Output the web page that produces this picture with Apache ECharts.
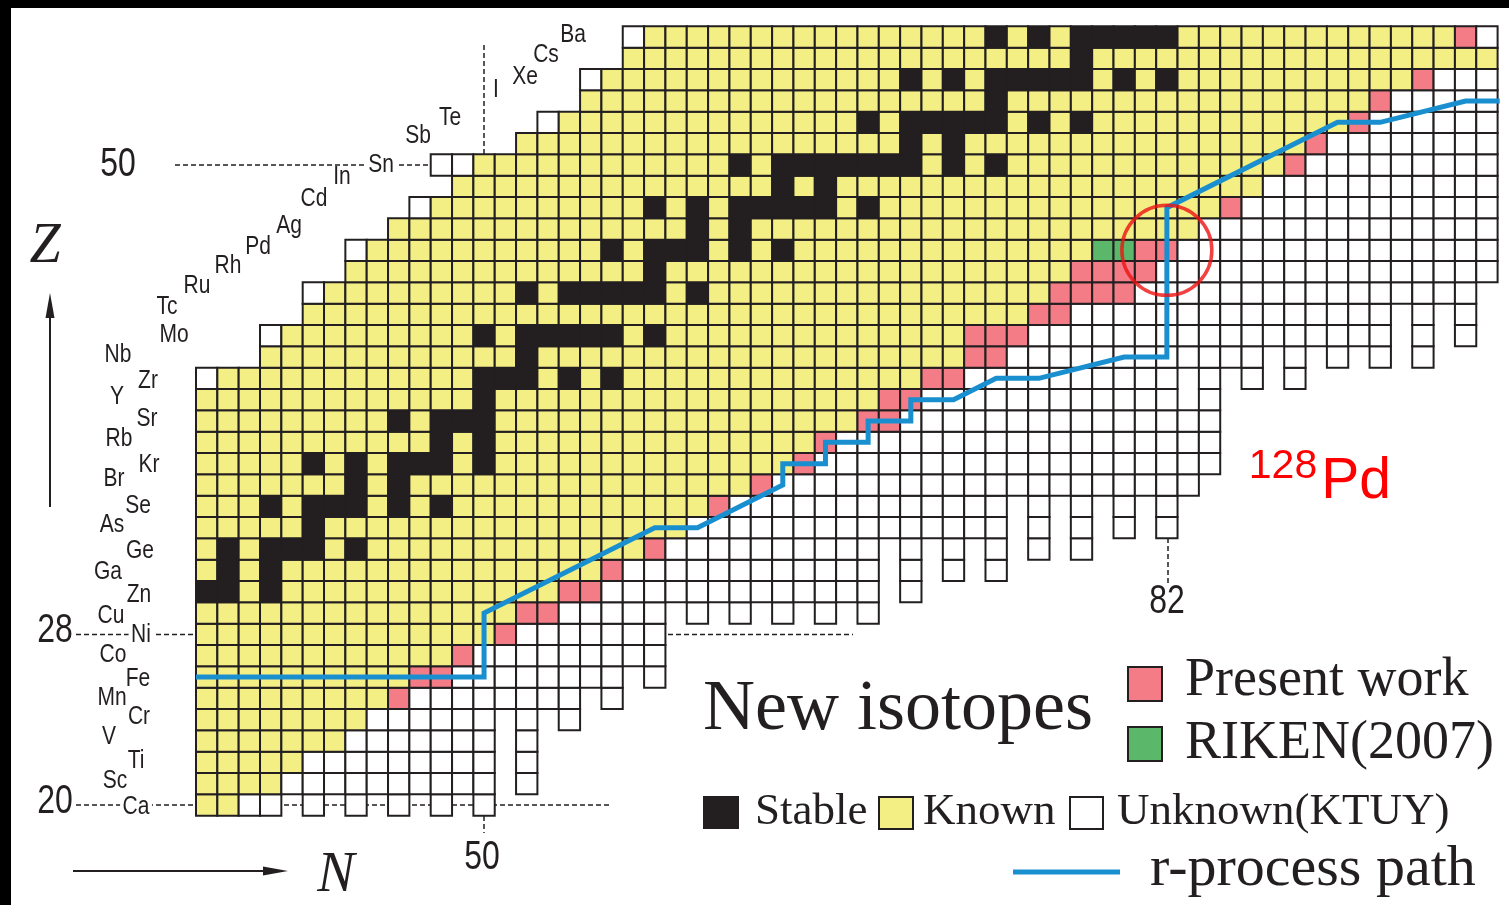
<!DOCTYPE html>
<html><head><meta charset="utf-8">
<script src="https://cdn.jsdelivr.net/npm/echarts@6/dist/echarts.min.js"></script>
<style>html,body{margin:0;padding:0;background:#fff;} #c{width:1509px;height:905px;}</style>
</head><body><div id="c"></div>
<script>
// ---------------- DATA ----------------
const Z_VALUES = [20,21,22,23,24,25,26,27,28,29,30,31,32,33,34,35,36,37,38,39,40,41,42,43,44,45,46,47,48,49,50,51,52,53,54,55,56];
const ELEMENTS = ['Ca','Sc','Ti','V','Cr','Mn','Fe','Co','Ni','Cu','Zn','Ga','Ge','As','Se','Br','Kr','Rb','Sr','Y','Zr','Nb','Mo','Tc','Ru','Rh','Pd','Ag','Cd','In','Sn','Sb','Te','I','Xe','Cs','Ba'];
// N ranges of all nuclides drawn in each row (Z = 20 ... 56)
const ROW_SEGMENTS = [
  [[37,40],[42,42],[44,44],[46,46],[48,48],[50,50]],
  [[37,50],[52,52]],
  [[37,50],[52,52]],
  [[37,50],[52,52]],
  [[37,50],[52,52],[54,54]],
  [[37,54],[56,56]],
  [[37,56],[58,58]],
  [[37,58]],
  [[37,58]],
  [[37,58],[60,60],[62,62],[64,64],[66,66],[68,68]],
  [[37,68],[70,70]],
  [[37,68],[70,70],[72,72],[74,74]],
  [[37,68],[70,70],[72,72],[74,74],[76,76],[78,78]],
  [[37,74],[76,76],[78,78],[80,80],[82,82]],
  [[37,74],[76,76],[78,78],[80,80],[82,82]],
  [[37,83]],
  [[37,84]],
  [[37,84]],
  [[37,84]],
  [[37,82],[84,84]],
  [[37,82],[84,84],[86,86],[88,88]],
  [[40,86],[88,88],[90,90],[92,92],[94,94]],
  [[40,92],[94,94],[96,96]],
  [[42,92],[94,94],[96,96]],
  [[42,96]],
  [[44,97]],
  [[44,97]],
  [[46,97]],
  [[47,97]],
  [[49,97]],
  [[48,97]],
  [[52,97]],
  [[53,97]],
  [[55,97]],
  [[55,97]],
  [[57,97]],
  [[57,97]]
];
// first / last known (previously identified) N in each row
const FIRST_KNOWN_N = [37,37,37,37,37,37,37,37,37,37,37,37,37,37,37,37,37,37,37,37,38,40,41,42,43,44,45,46,48,49,50,52,54,55,56,57,58];
const LAST_KNOWN_N  = [38,40,41,43,44,45,46,48,50,51,53,55,57,59,60,62,64,65,67,68,70,72,72,75,76,77,78,83,84,86,87,88,90,91,93,97,95];
// stable N for each row
const STABLE_N = [
  [],[],[],[],[],[],[],[],[],[],
  [37,38,40],[38,40],[38,40,41,42,44],[42],[40,42,43,44,46,48],[44,46],[42,44,46,47,48,50],[48,50],[46,48,49,50],[50],
  [50,51,52,54,56],[52],[50,52,53,54,55,56,58],[],[52,54,55,56,57,58,60],[58],[56,58,59,60,62,64],[60,62],
  [58,60,62,63,64,65,66,68],[64,66],[62,64,65,66,67,68,69,70,72,74],[70,72],[68,70,71,72,73,74,76,78],[74],
  [70,72,74,75,76,77,78,80,82],[78],[74,76,78,79,80,81,82]
];
// new isotopes [N, Z]
const PRESENT_WORK = [[46,25],[47,26],[48,26],[49,27],[51,28],[52,29],[53,29],[54,30],[55,30],[56,31],[58,32],
  [61,34],[63,35],[65,36],[66,37],[68,38],[69,38],[69,39],[70,39],[71,40],[72,40],[73,41],[74,41],[73,42],[74,42],[75,42],
  [76,43],[77,43],[77,44],[78,44],[79,44],[80,44],[78,45],[79,45],[80,45],[81,45],[81,46],[82,46],[85,48],[88,50],
  [89,51],[91,52],[92,53],[94,54],[96,56]];
const RIKEN_2007 = [[79,46],[80,46]];
// r-process path vertices
const RPATH_N = [36.5,50,50,58,60,64,64,66,66,68,68,70,70,72,74,76,80,82,82,90,92,96,97.6];
const RPATH_Z = [26,26,29,33,33,35,36,36,37,37,38,38,39,39,40,40,41,41,48,52,52,53,53];
const HIGHLIGHT = [82,46]; // 128Pd

// ---------------- BUILD ----------------
const COLORS = ['#ffffff','#f4ef84','#231f20','#f47c86','#5bb86b'];
const special = {};
STABLE_N.forEach((arr,i)=>arr.forEach(n=>special[n+','+Z_VALUES[i]]=2));
PRESENT_WORK.forEach(([n,z])=>special[n+','+z]=3);
RIKEN_2007.forEach(([n,z])=>special[n+','+z]=4);
const cells = [];
Z_VALUES.forEach((z,i)=>{
  ROW_SEGMENTS[i].forEach(([a,b])=>{
    for(let n=a;n<=b;n++){
      let s = (n>=FIRST_KNOWN_N[i] && n<=LAST_KNOWN_N[i]) ? 1 : 0;
      const k = n+','+z;
      if(special[k]!==undefined) s = special[k];
      cells.push([n,z,s]);
    }
  });
});
const path = RPATH_N.map((n,i)=>[n,RPATH_Z[i]]);

const INK = '#231f20';
const SANS = '"Liberation Sans", Arial, sans-serif';
const SERIF = '"Liberation Serif", "Times New Roman", serif';
const LABEL_XY = {Ca:[136,807],Sc:[115,781],Ti:[136,761],V:[109,737],Cr:[139,717],Mn:[112,698],Fe:[138,679],Co:[113,655],
  Ni:[141,635],Cu:[111,616],Zn:[139,595],Ga:[108,572],Ge:[140,551],As:[112,525],Se:[138,506],Br:[114,479],Kr:[149,465],
  Rb:[119,439],Sr:[147,419],Y:[117,397],Zr:[148,381],Nb:[118,355],Mo:[174,335],Tc:[167,307],Ru:[197,286],Rh:[228,266],
  Pd:[258,247],Ag:[289,226],Cd:[314,199],In:[342,177],Sn:[381,165],Sb:[418,136],Te:[450,118],I:[496,90],Xe:[525,77],
  Cs:[546,55],Ba:[573,35]};

function text(x,y,t,size,opt){
  opt = opt||{};
  return {type:'text', x:x, y:y, scaleX:opt.sx||1, z: opt.z||10,
    style:{text:t, fontSize:size, fontFamily:opt.ff||SANS, fontStyle:opt.fs||'normal', fill:opt.color||INK,
      align:opt.align||'center', verticalAlign:'middle', textAlign:opt.align||'center', textVerticalAlign:'middle',
      backgroundColor:opt.bg, padding:opt.bg?[0,3]:0}};
}
function dline(x1,y1,x2,y2){
  return {type:'line', z:0, shape:{x1,y1,x2,y2}, style:{stroke:INK, lineWidth:1.5, lineDash:[5,3]}};
}
const g = [];
g.push({type:'rect', z:0, shape:{x:0,y:0,width:11,height:905}, style:{fill:'#000'}});
g.push({type:'rect', z:0, shape:{x:0,y:0,width:1509,height:8}, style:{fill:'#000'}});
g.push(dline(175,165,431,165));
g.push(dline(76,634.5,853,634.5));
g.push(dline(76,805,612,805));
g.push(dline(484,45,484,154));
g.push(dline(484,816,484,833));
g.push(dline(1168,538,1168,583));
ELEMENTS.forEach(el=>{
  const p = LABEL_XY[el];
  const bg = (el==='Sn'||el==='Ni'||el==='Ca') ? '#fff' : undefined;
  g.push(text(p[0],p[1],el,25,{sx:0.84,bg:bg}));
});
g.push(text(118,165,'50',40,{sx:0.8}));
g.push(text(55,631,'28',40,{sx:0.8}));
g.push(text(55,802,'20',40,{sx:0.8}));
g.push(text(482,858,'50',40,{sx:0.8}));
g.push(text(1167,602,'82',40,{sx:0.8}));
// axis arrows
g.push({type:'line', shape:{x1:50,y1:507,x2:50,y2:312}, style:{stroke:INK,lineWidth:2}});
g.push({type:'polygon', shape:{points:[[50,293],[45.5,318],[54.5,318]]}, style:{fill:INK}});
g.push(text(45,247,'Z',56,{ff:SERIF,fs:'italic'}));
g.push({type:'line', shape:{x1:73,y1:871,x2:268,y2:871}, style:{stroke:INK,lineWidth:2}});
g.push({type:'polygon', shape:{points:[[288,871],[263,866.5],[263,875.5]]}, style:{fill:INK}});
g.push(text(336,876,'N',56,{ff:SERIF,fs:'italic'}));
// 128Pd
g.push(text(1283,467,'128',41,{color:'#ff0000'}));
g.push(text(1356,482,'Pd',57,{color:'#ff0000'}));
// legend
function box(x,y,w,h,fill){ return {type:'rect', shape:{x,y,width:w,height:h}, style:{fill:fill, stroke:INK, lineWidth:2}}; }
g.push(text(703,710,'New isotopes',72,{ff:SERIF,align:'left'}));
g.push(box(1128,667,34,34,COLORS[3]));
g.push(text(1185,681,'Present work',54,{ff:SERIF,align:'left'}));
g.push(box(1128,727,34,34,COLORS[4]));
g.push(text(1185,744,'RIKEN(2007)',54,{ff:SERIF,align:'left'}));
g.push(box(704,797,34,31,COLORS[2]));
g.push(text(755,812,'Stable',45,{ff:SERIF,align:'left'}));
g.push(box(879,797,34,32,COLORS[1]));
g.push(text(923,812,'Known',45,{ff:SERIF,align:'left'}));
g.push(box(1070,797,33,32,COLORS[0]));
g.push(text(1117,812,'Unknown(KTUY)',45,{ff:SERIF,align:'left'}));
g.push({type:'line', shape:{x1:1013,y1:872,x2:1120,y2:872}, style:{stroke:'#1a8fd0',lineWidth:5}});
g.push(text(1150,870,'r-process path',58,{ff:SERIF,align:'left'}));

const chart = echarts.init(document.getElementById('c'), null, {renderer:'canvas'});
chart.setOption({
  animation:false,
  backgroundColor:'#ffffff',
  grid:{left:196, top:26.3, width:1301.6, height:789.4, containLabel:false},
  xAxis:{type:'value', min:36.5, max:97.5, show:false},
  yAxis:{type:'value', min:19.5, max:56.5, show:false},
  graphic:{elements:g},
  series:[
    {type:'custom', z:2, data:cells, encode:{x:0,y:1},
      renderItem:function(params,api){
        const c = api.coord([api.value(0),api.value(1)]);
        const s = api.size([1,1]);
        return {type:'rect', shape:{x:c[0]-s[0]/2, y:c[1]-s[1]/2, width:s[0], height:s[1]},
          style:{fill:COLORS[api.value(2)], stroke:INK, lineWidth:2}};
      }},
    {type:'line', z:4, data:path, symbol:'none', clip:false,
      lineStyle:{color:'#1a8fd0', width:5, join:'miter'}},
    {type:'scatter', z:5, data:[HIGHLIGHT], symbol:'circle', symbolSize:90, clip:false,
      itemStyle:{color:'rgba(0,0,0,0)', borderColor:'#ee1111', borderWidth:3.5}}
  ]
});
</script></body></html>
